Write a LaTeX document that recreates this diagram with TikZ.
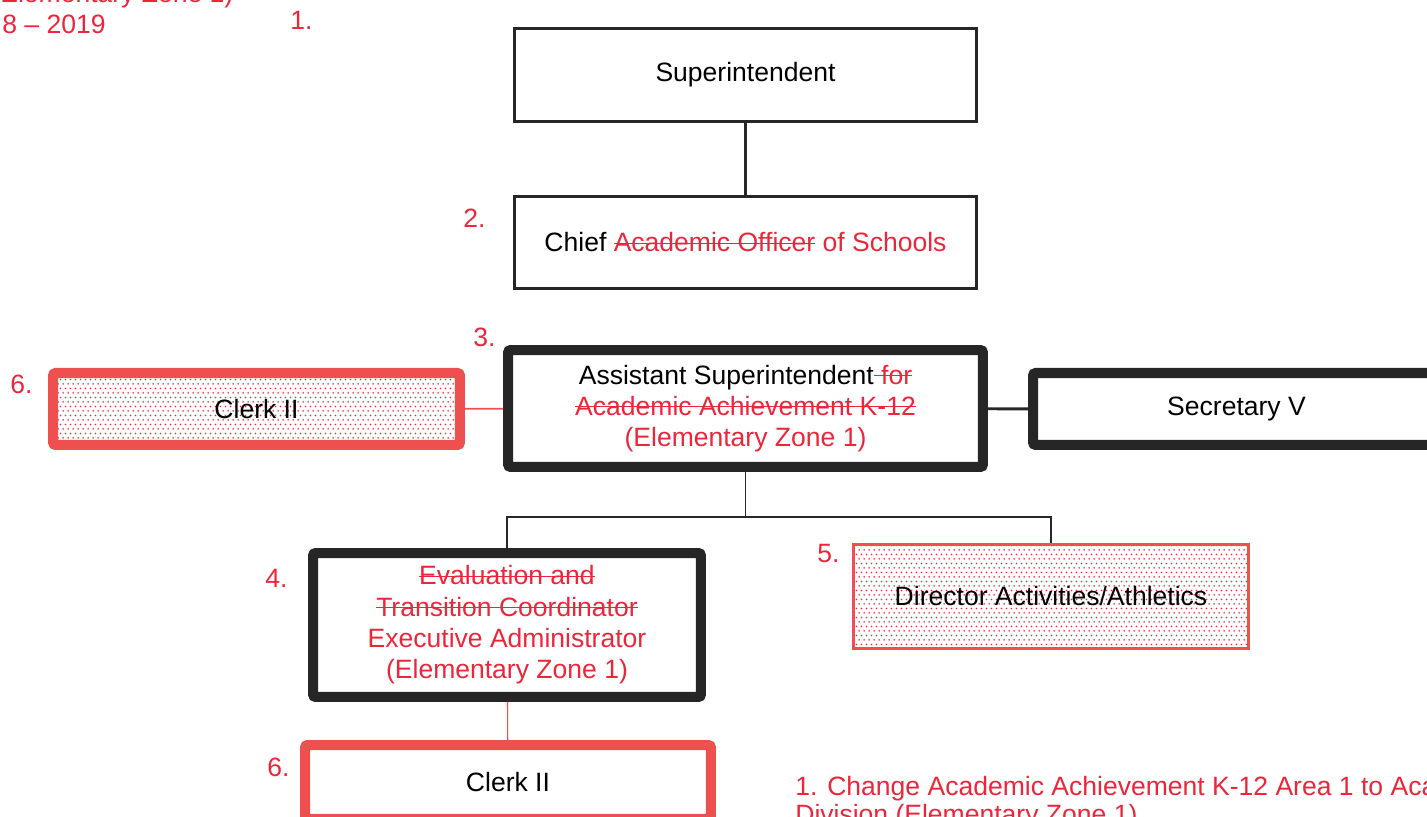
\documentclass[tikz,border=0pt]{standalone}
\usepackage{fontspec}
\setmainfont{Liberation Sans}
\usetikzlibrary{patterns}
\definecolor{pencol}{RGB}{236,38,58}
\definecolor{redbox}{RGB}{238,80,80}
\definecolor{darkbox}{RGB}{38,38,38}
\newcommand{\crossout}[1]{\setbox0\hbox{#1}\rlap{\rule[0.3em]{\wd0}{0.7pt}}\box0\relax}
\pgfdeclarepatternformonly{reddots}{\pgfpointorigin}{\pgfpoint{3pt}{5pt}}{\pgfpoint{3pt}{5pt}}{
	\pgfpathcircle{\pgfpoint{0.75pt}{1.25pt}}{0.55pt}
	\pgfpathcircle{\pgfpoint{2.25pt}{3.75pt}}{0.55pt}
	\pgfusepath{fill}
}

\begin{document}
\begin{tikzpicture}[
			x=0.02cm,
			y=-0.02cm,
			font=\fontsize{15.1}{17.8}\selectfont,
			post/.style={
				draw=darkbox,
				rectangle,
				line width=1.7pt,
				align=center,
				inner sep=2pt
			},
			heavypost/.style={
				post,
				line width=5.7pt,
				rounded corners=1.5pt
			},
			redpost/.style={
				post,
				draw=redbox,
				line width=5.7pt,
				rounded corners=1.5pt
			},
			newpost/.style={
				pattern=reddots,
				pattern color=pencol
			},
			tag/.style={
				text=pencol,
				inner sep=0pt,
				anchor=base west
			},
			link/.style={
				draw=darkbox,
				line width=1.1pt
			},
			redlink/.style={
				draw=redbox,
				line width=1.1pt
			}
			]
			\useasboundingbox (0,0) rectangle (1427,817);
			\clip (0,0) rectangle (1427,817);
			
			% Posts
			\node[post, minimum width=9.24cm, minimum height=1.86cm] (supt) at (745.5,75) {Superintendent};
			\node[post, minimum width=9.24cm, minimum height=1.84cm] (chief) at (745.5,242.5)
				{Chief \textcolor{pencol}{\crossout{Academic Officer} of Schools}};
			\node[heavypost, minimum width=9.5cm, minimum height=2.34cm] (asst) at (745.5,408.5)
				{Assistant Superintendent\textcolor{pencol}{\crossout{\ for}}\\
				\textcolor{pencol}{\crossout{Academic Achievement K-12}}\\
				\textcolor{pencol}{(Elementary Zone 1)}};
			\node[redpost, newpost, minimum width=8.14cm, minimum height=1.44cm] (clerka) at (256.5,409) {Clerk II};
			\node[heavypost, minimum width=8.14cm, minimum height=1.44cm] (secv) at (1236.5,409) {Secretary V};
			\node[heavypost, minimum width=7.76cm, minimum height=2.88cm] (eval) at (507,625)
				{\textcolor{pencol}{\crossout{Evaluation and}}\\
				\textcolor{pencol}{\crossout{Transition Coordinator}}\\
				\textcolor{pencol}{Executive Administrator}\\
				\textcolor{pencol}{(Elementary Zone 1)}};
			\node[post, draw=redbox, newpost, minimum width=7.9cm, minimum height=2.08cm] (dir) at (1051,596.5)
				{Director Activities/Athletics};
			\node[redpost, minimum width=8.12cm, minimum height=1.48cm] (clerkb) at (508,782) {Clerk II};
			
			% Lines
			\coordinate (fork) at (745.5,517);
			\draw[link, line width=1.7pt] (supt) -- (chief);
			\draw[redlink] (clerka) -- (asst);
			\draw[link, line width=1.7pt] (asst) -- (secv);
			\draw[link] (asst) -- (fork);
			\draw[link] (fork) -| (eval);
			\draw[link] (fork) -| (dir);
			\draw[redlink, line width=0.6pt] (eval) -- (clerkb);
			
			% Change numbers
			\node[tag] (n1) at (290,30) {1.};
			\node[tag] (n2) at (463,228) {2.};
			\node[tag] (n3) at (473,347) {3.};
			\node[tag] (n4) at (265,587) {4.};
			\node[tag] (n5) at (817,562) {5.};
			\node[tag] (n6a) at (10,394) {6.};
			\node[tag] (n6b) at (267,776) {6.};
			
			% Notes
			\node[tag] (head1) at (0,3) {Elementary Zone 1)};
			\node[tag] (head2) at (2,34) {8 -- 2019};
			\node[tag] (note1) at (795,795) {1. Change Academic Achievement K-12 Area 1 to Academic};
			\node[tag] (note2) at (795,823) {Division (Elementary Zone 1)};
		\end{tikzpicture}
\end{document}
